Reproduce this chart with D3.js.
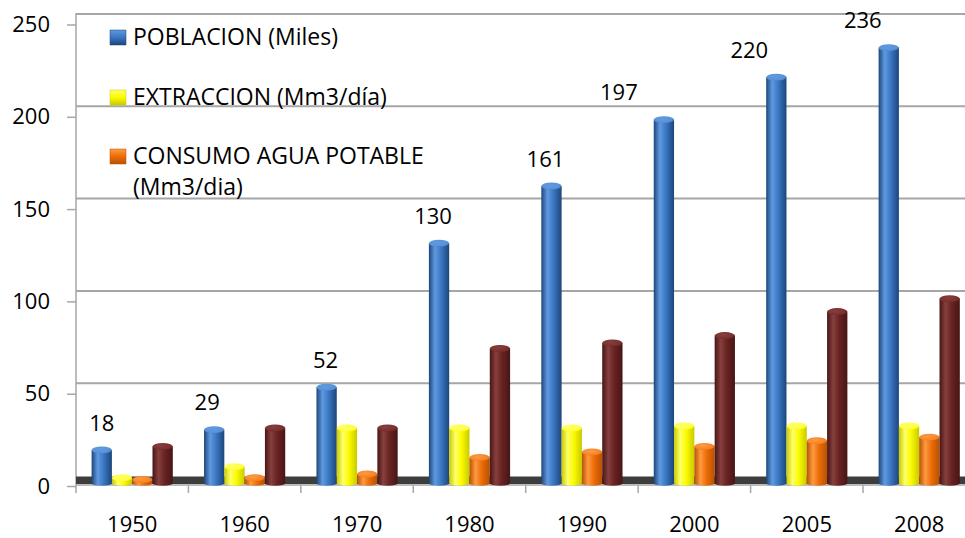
<!DOCTYPE html>
<html>
<head>
<meta charset="utf-8">
<script src="https://cdn.jsdelivr.net/npm/d3@7"></script>
<style>
  html, body { margin: 0; padding: 0; background: #ffffff; }
  svg { display: block; font-family: "Open Sans", "Noto Sans", sans-serif; }
</style>
</head>
<body>
<svg id="chart" width="965" height="538"></svg>
<script>
// ---- data ----
const years = ["1950", "1960", "1970", "1980", "1990", "2000", "2005", "2008"];
const poblacion = [18, 29, 52, 130, 161, 197, 220, 236];
const extraccion = [3, 9, 30, 30, 30, 31, 31, 31];
const consumo = [2, 3, 5, 14, 17, 20, 23, 25];
const serie4 = [20, 30, 30, 73, 76, 80, 93, 100];
const yTicks = [0, 50, 100, 150, 200, 250];
const legendLabels = [["POBLACION (Miles)"], ["EXTRACCION (Mm3/día)"], ["CONSUMO AGUA POTABLE", "(Mm3/dia)"]];
const seriesKeys = ["poblacion", "extraccion", "consumo", "serie4"];

// ---- layout / style ----
const svg = d3.select("#chart");
const left = 76, catW = 112.43, right = left + catW * years.length;
const base = 483.3;        // bar bases (front of floor)
const pxPerUnit = 1.846;
const colors = {
  poblacion: { dark: "#1d4679", main: "#3a76c2", light: "#5f9ae0", cap: "#5a92d8" },
  extraccion: { dark: "#c9c900", main: "#fbfb00", light: "#ffff6a", cap: "#ffff40" },
  consumo: { dark: "#b85200", main: "#ec6c08", light: "#ff9a40", cap: "#f5852a" },
  serie4: { dark: "#481514", main: "#672322", light: "#86403d", cap: "#7a302e" }
};
const labelShift = [0, -7, -1, -6, -6, -45, -27, -26];

const x0 = d3.scaleBand().domain(years).range([left, right]);
const x1 = d3.scaleBand().domain(seriesKeys).range([15.6, 15.6 + 81.2]);
const yBar = d3.scaleLinear().domain([0, 250]).range([base, base - 250 * pxPerUnit]);
const yWall = d3.scaleLinear().domain([0, 250]).range([475.5, 475.5 - 250 * pxPerUnit]);
const yTick = d3.scaleLinear().domain([0, 250]).range([486, 486 - 250 * pxPerUnit]);

const table = years.map((yr, i) => ({
  year: yr, poblacion: poblacion[i], extraccion: extraccion[i], consumo: consumo[i], serie4: serie4[i]
}));

// gradients
const defs = svg.append("defs");
seriesKeys.forEach(k => {
  const c = colors[k];
  const g = defs.append("linearGradient").attr("id", "g-" + k).attr("x1", 0).attr("x2", 1).attr("y1", 0).attr("y2", 0);
  [[0, c.dark], [0.3, c.light], [0.6, c.main], [1, c.dark]].forEach(s =>
    g.append("stop").attr("offset", s[0]).attr("stop-color", s[1]));
  const gc = defs.append("radialGradient").attr("id", "c-" + k).attr("cx", 0.4).attr("cy", 0.4).attr("r", 0.7);
  [[0, c.light], [0.7, c.cap], [1, c.main]].forEach(s =>
    gc.append("stop").attr("offset", s[0]).attr("stop-color", s[1]));
  const gl = defs.append("linearGradient").attr("id", "l-" + k).attr("x1", 0).attr("x2", 0).attr("y1", 0).attr("y2", 1);
  [[0, c.light], [0.5, c.main], [1, c.dark]].forEach(s =>
    gl.append("stop").attr("offset", s[0]).attr("stop-color", s[1]));
});

// back wall gridlines
svg.append("g").selectAll("line").data(yTicks.filter(t => t > 0)).join("line")
  .attr("x1", left).attr("x2", 965)
  .attr("y1", d => yWall(d)).attr("y2", d => yWall(d))
  .attr("stroke", "#a6a6a6").attr("stroke-width", 2);

// left wall line
svg.append("line").attr("x1", left).attr("x2", left).attr("y1", yWall(250) - 1).attr("y2", 493)
  .attr("stroke", "#a6a6a6").attr("stroke-width", 1.5);

// floor
svg.append("rect").attr("x", left).attr("y", 476.5).attr("width", 965 - left).attr("height", 7.5)
  .attr("fill", "#3d3d3d");
svg.append("line").attr("x1", left).attr("x2", 965).attr("y1", 485).attr("y2", 485)
  .attr("stroke", "#a6a6a6").attr("stroke-width", 1.5);

// y axis
const yAxis = d3.axisLeft(yTick).tickValues(yTicks).tickSize(9).tickPadding(17);
const ya = svg.append("g").attr("transform", `translate(${left},0)`).call(yAxis);
ya.select(".domain").remove();
ya.selectAll(".tick line").attr("stroke", "#a6a6a6").attr("stroke-width", 1.5);
ya.selectAll(".tick text").attr("font-size", 22).attr("fill", "#000")
  .attr("font-family", "'Open Sans', sans-serif");

// x axis
const xAxis = d3.axisBottom(x0).tickSize(0).tickPadding(0);
const xa = svg.append("g").attr("transform", `translate(0,532)`).call(xAxis);
xa.select(".domain").remove();
xa.selectAll(".tick line").remove();
xa.selectAll(".tick text").attr("font-size", 22).attr("fill", "#000").attr("dy", 0)
  .attr("font-family", "'Open Sans', sans-serif");
// category boundary ticks
svg.append("g").selectAll("line").data(years).join("line")
  .attr("x1", d => x0(d) + x0.bandwidth())
  .attr("x2", d => x0(d) + x0.bandwidth())
  .attr("y1", 485).attr("y2", 493)
  .attr("stroke", "#a6a6a6").attr("stroke-width", 1.5);

// bars (cylinders)
const groups = svg.append("g").selectAll("g").data(table).join("g")
  .attr("transform", d => `translate(${x0(d.year)},0)`);
const bars = groups.selectAll("g").data(d => seriesKeys.map(k => ({ key: k, value: d[k] }))).join("g");
const w = x1.bandwidth();
bars.append("ellipse")
  .attr("cx", d => x1(d.key) + w / 2).attr("cy", base).attr("rx", w / 2).attr("ry", 2.5)
  .attr("fill", d => `url(#g-${d.key})`);
bars.append("rect")
  .attr("x", d => x1(d.key)).attr("width", w)
  .attr("y", d => yBar(d.value)).attr("height", d => base - yBar(d.value))
  .attr("fill", d => `url(#g-${d.key})`);
bars.append("ellipse")
  .attr("cx", d => x1(d.key) + w / 2).attr("cy", d => yBar(d.value)).attr("rx", w / 2).attr("ry", 3.5)
  .attr("fill", d => `url(#c-${d.key})`);

// data labels for population
svg.append("g").selectAll("text").data(table).join("text")
  .attr("x", (d, i) => x0(d.year) + x1("poblacion") + w / 2 + labelShift[i])
  .attr("y", d => yBar(d.poblacion) - 19.5)
  .attr("text-anchor", "middle").attr("font-size", 22).attr("fill", "#000")
  .text(d => d.poblacion);

// legend
const leg = svg.append("g");
const legRows = [45, 105, 164];
legendLabels.forEach((lines, i) => {
  const k = seriesKeys[i];
  leg.append("rect").attr("x", 110).attr("y", legRows[i] - 15).attr("width", 16).attr("height", 15)
    .attr("fill", `url(#l-${k})`).attr("stroke", colors[k].dark).attr("stroke-width", 0.5);
  const t = leg.append("text").attr("x", 133).attr("y", legRows[i]).attr("font-size", 23).attr("fill", "#000");
  lines.forEach((ln, j) => {
    t.append("tspan").attr("x", 133).attr("dy", j === 0 ? 0 : 31).text(ln);
  });
});
</script>
</body>
</html>
